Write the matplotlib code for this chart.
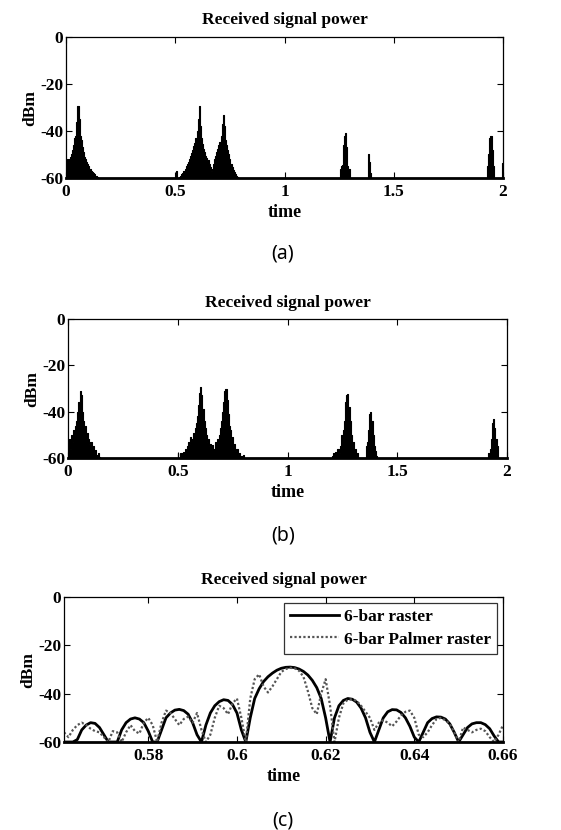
import numpy as np
import matplotlib
matplotlib.use("Agg")
import matplotlib.pyplot as plt

# ---------------- data ----------------
STEP = 0.005  # sampling step of the received-power traces (s)

# Panel (a): clusters of received power (dBm); each cluster starts at a_starts[i]
a_starts = [0.000, 0.500, 1.250, 1.380, 1.925, 1.995]
a_c1 = [-53, -52, -53, -52, -51, -50, -48, -46, -43, -42, -36, -29.5, -35, -42, -44,
        -47, -49, -51, -52, -53, -54, -55, -56, -57, -57.5, -58, -58.5, -59, -59.3, -59.6]
a_c2 = [-60, -57, -60, -60, -59.5, -59, -58.5, -58, -57, -56, -55, -54, -53, -52, -50.5,
        -49.5, -48, -46.5, -45, -43, -40, -35, -29.5, -38, -43, -45.5, -47.5, -49, -50.5,
        -51.5, -52.5, -54, -55.5, -57, -56, -54, -52, -50.5, -49, -47.5, -46, -44.5, -42,
        -37, -33, -38, -44, -46, -48, -50, -52, -54, -55.5, -56.5, -57.5, -58.5, -59,
        -59.5, -59.8]
a_c3 = [-60, -56, -55, -54.5, -46, -42, -41, -47, -55, -56, -59]
a_c4 = [-58, -50, -53, -58]
a_c5 = [-58, -55, -50, -43, -42, -48, -55, -58]
a_c6 = [-60, -53.5]
a_clusters = [a_c1, a_c2, a_c3, a_c4, a_c5, a_c6]

# Panel (b)
b_starts = [0.000, 0.500, 1.200, 1.915]
b_c1 = [-55, -52, -56, -50, -53, -48, -50, -46, -44, -40, -36, -31, -33, -40, -44,
        -47, -46, -50, -49, -52, -54, -53, -56, -55, -57.5, -56.5, -58.5, -59, -58, -59.5]
b_c2 = [-58, -60, -60, -58, -60, -57.5, -59, -56, -57, -55, -53, -54, -51, -52, -49,
        -50, -47, -45, -42, -37, -32, -29.5, -33, -39, -44, -47, -50, -53, -52, -55,
        -54, -56, -54.5, -56, -53, -55, -52, -53, -50, -47, -44, -40, -36, -31, -30,
        -35, -41, -46, -48, -52, -51, -55, -54, -57, -56, -58.5, -58, -59.5, -59, -60,
        -58.5, -60]
b_c3 = [-60, -59, -58, -60, -57.5, -59, -56, -58, -55, -50, -52, -48, -44, -36, -33,
        -32.5, -38, -44, -50, -55, -53, -57, -56, -59, -58, -60, -60, -60, -60, -60,
        -60, -60, -55, -53, -48, -41, -40, -44, -50, -55, -57, -59, -60]
b_c4 = [-58, -60, -56, -52, -45, -43, -47, -52, -55, -59]
b_clusters = [b_c1, b_c2, b_c3, b_c4]

# Panel (c): zoom on the main pulse, sampled every 1 ms from 0.561 s
c_t0 = 0.561
c_dt = 0.001
c_raster = [-60, -60, -60, -59, -55, -53, -52, -52.3, -54, -57, -60, -60,
            -60, -55, -52, -50.5, -50, -50.5, -52, -55.5, -60, -60,
            -55, -50, -48, -46.8, -46.5, -47, -48.5, -52, -57, -60,
            -53, -48, -45, -43.3, -42.5, -42.8, -44.5, -48, -55, -60,
            -50, -42, -38, -35, -33, -31.5, -30.3, -29.5, -29.1, -29, -29.2, -29.8,
            -30.8, -32.3, -34.5, -37.5, -42, -50, -60,
            -50, -45, -42.8, -42, -42.3, -43.5, -46, -50, -56, -60,
            -55, -50, -47.5, -46.6, -46.7, -47.8, -50, -53.5, -58, -60,
            -56, -52, -50.3, -49.6, -49.7, -50.5, -52.5, -56, -60,
            -57, -54, -52.5, -52, -52, -52.8, -54.5, -57.5, -60, -60]
c_palmer = [-56, -58, -55, -53, -52, -53, -54.5, -55.5, -56, -58,
            -60, -55.5, -56, -60, -56, -53, -55.5, -56.5, -52, -50,
            -53, -60, -52, -47, -48, -50.5, -53, -50.5, -49.5, -52,
            -48, -55, -60, -57, -50, -45, -46, -48.5, -44, -42,
            -50, -60,
            -42, -34, -32, -37, -39.5, -37, -34, -31, -29.8, -29.3, -29.5, -30.5,
            -33, -39, -46, -48.5, -40, -34, -45,
            -60, -50, -44, -42.5, -42.3, -43, -45, -47.5, -50, -55,
            -52, -51, -52, -53.5, -51.5, -49, -47.5, -47, -50, -57,
            -58, -56, -53, -50.5, -50, -51, -52.5, -56, -60,
            -54, -55, -56, -55, -54.5, -55.5, -58, -60, -57, -53]

# ---------------- style ----------------
SERIF = ["Liberation Serif", "DejaVu Serif"]
plt.rcParams["font.family"] = SERIF
plt.rcParams["font.weight"] = "bold"

fig = plt.figure(figsize=(5.61, 8.30), dpi=100)
W, H = 561.0, 830.0


def make_ax(left, right, top, bottom):
    return fig.add_axes([left / W, 1 - bottom / H, (right - left) / W, (bottom - top) / H])


def style(ax, xticks, xlabels, xlim):
    ax.set_xlim(*xlim)
    ax.set_ylim(-60, 0)
    ax.set_yticks([0, -20, -40, -60])
    ax.set_yticklabels(["0", "-20", "-40", "-60"])
    ax.set_xticks(xticks)
    ax.set_xticklabels(xlabels)
    ax.tick_params(direction="in", top=True, right=True, length=4, width=0.8,
                   labelsize=12.5)
    ax.tick_params(axis="x", pad=4)
    ax.tick_params(axis="y", pad=2)
    for lab in ax.get_xticklabels() + ax.get_yticklabels():
        lab.set_fontweight("bold")
    for s in ax.spines.values():
        s.set_linewidth(0.9)
    ax.spines["bottom"].set_linewidth(2.0)
    ax.set_title("Received signal power", fontsize=12.5, fontweight="bold", pad=9)
    ax.set_xlabel("time", fontsize=13, fontweight="bold", labelpad=3)
    ax.set_ylabel("dBm", fontsize=12.5, fontweight="bold", labelpad=1)


def draw_clusters(ax, starts, clusters):
    for st, vals in zip(starts, clusters):
        v = np.array(vals, dtype=float)
        t = st + STEP * np.arange(len(v))
        ax.fill_between(t, -60, v, step="mid", color="black", linewidth=0.8,
                        edgecolor="black")


# (a)
ax_a = make_ax(66, 503, 37, 178)
draw_clusters(ax_a, a_starts, a_clusters)
style(ax_a, [0, 0.5, 1, 1.5, 2], ["0", "0.5", "1", "1.5", "2"], (0, 2))

# (b)
ax_b = make_ax(68, 507, 319, 458)
draw_clusters(ax_b, b_starts, b_clusters)
style(ax_b, [0, 0.5, 1, 1.5, 2], ["0", "0.5", "1", "1.5", "2"], (0, 2))

# (c)
ax_c = make_ax(64, 503, 597, 742)
tc = c_t0 + c_dt * np.arange(len(c_raster))
ax_c.plot(tc, c_raster, color="black", lw=2.0, label="6-bar raster")
ax_c.plot(tc, c_palmer, color="#555555", lw=1.6, ls=(0, (1, 1)),
          label="6-bar Palmer raster")
style(ax_c, [0.58, 0.6, 0.62, 0.64, 0.66], ["0.58", "0.6", "0.62", "0.64", "0.66"],
      (0.561, 0.66))
leg = ax_c.legend(loc="upper right", fontsize=12.5, frameon=True, fancybox=False,
                  edgecolor="black", handlelength=2.8, borderpad=0.35,
                  labelspacing=0.35, handletextpad=0.3, borderaxespad=0.35)
leg.get_frame().set_linewidth(0.9)
for txt in leg.get_texts():
    txt.set_fontweight("bold")

# captions
SANS = ["Noto Sans", "DejaVu Sans"]
for label, yc in (("(a)", 253), ("(b)", 536), ("(c)", 820)):
    fig.text(283 / W, 1 - yc / H, label, ha="center", va="center", fontsize=14,
             family=SANS, fontweight="normal")

fig.savefig("out.png", dpi=100, facecolor="white")
